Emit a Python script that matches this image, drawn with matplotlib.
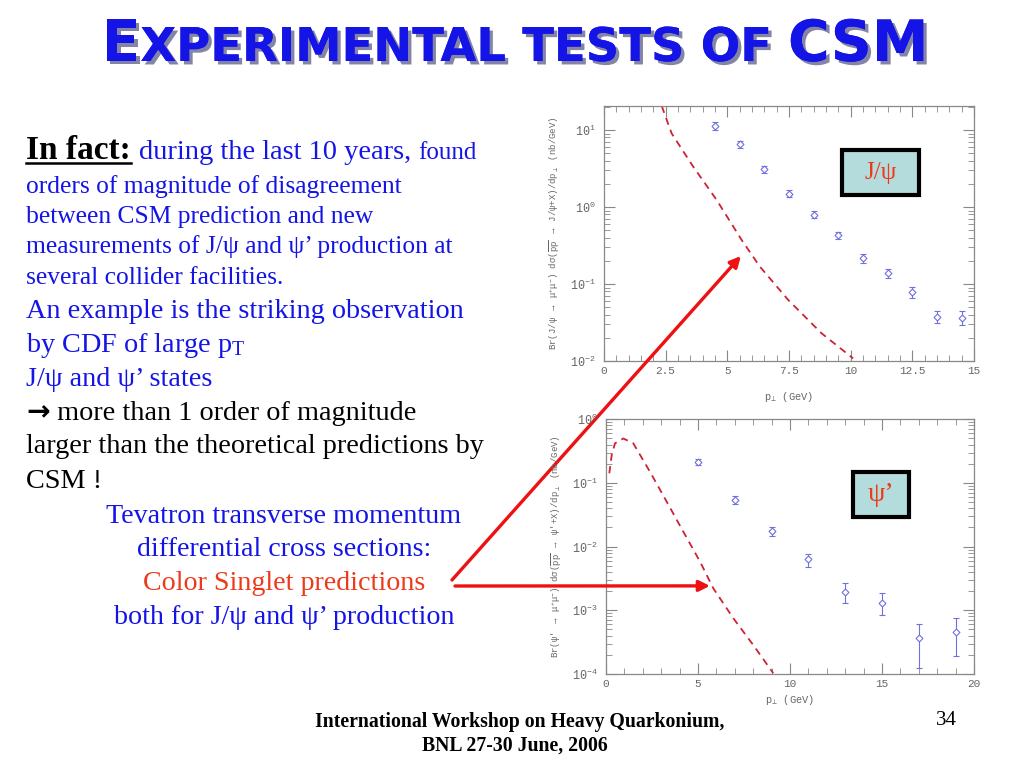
import matplotlib
matplotlib.use('Agg')
import matplotlib.pyplot as plt
import matplotlib.patheffects as pe
from matplotlib.patches import Rectangle
from matplotlib.lines import Line2D
from matplotlib.ticker import MultipleLocator, LogLocator, NullFormatter, FuncFormatter

W, H = 1024, 768

# CDF J/psi points: pT, value, lower and upper end of error bar (nb/GeV)
jpsi_pt = [4.5, 5.5, 6.5, 7.5, 8.5, 9.5, 10.5, 11.5, 12.5, 13.5, 14.5]
jpsi_val = [11.3, 6.5, 3.1, 1.49, 0.79, 0.43, 0.215, 0.137, 0.078, 0.037, 0.036]
jpsi_lo = [10.1, 5.9, 2.8, 1.35, 0.71, 0.385, 0.19, 0.12, 0.066, 0.031, 0.029]
jpsi_hi = [12.6, 7.2, 3.4, 1.65, 0.88, 0.48, 0.245, 0.156, 0.092, 0.044, 0.044]

# colour singlet prediction for J/psi (dashed)
jpsi_csm_pt = [2.34, 2.74, 3.62, 4.57, 5.58, 6.32, 7.47, 8.82, 10.1]
jpsi_csm_val = [20.5, 9.06, 3.33, 1.23, 0.373, 0.168, 0.062, 0.0229, 0.0108]

# CDF psi' points
psi2_pt = [5, 7, 9, 11, 13, 15, 17, 19]
psi2_val = [0.211, 0.054, 0.0178, 0.0063, 0.00196, 0.00132, 0.00037, 0.00046]
psi2_lo = [0.19, 0.047, 0.0149, 0.00486, 0.00132, 0.00083, 0.000126, 0.00019]
psi2_hi = [0.235, 0.0625, 0.0206, 0.0077, 0.00266, 0.00185, 0.00061, 0.00075]

# colour singlet prediction for psi'
psi2_csm_pt = [0.18, 0.31, 0.49, 0.94, 1.48, 2.39, 3.30, 4.20, 5.11, 5.83, 6.92, 8.0, 9.09]
psi2_csm_val = [0.142, 0.275, 0.42, 0.50, 0.42, 0.150, 0.0508, 0.0172, 0.00582,
                0.00222, 0.00075, 0.000286, 0.000103]

plt.rcParams['mathtext.default'] = 'regular'

BLUE = '#1414e6'
RED = '#ee3a1a'
AXC = '#666666'
MONO = ['Liberation Mono', 'DejaVu Sans Mono']
SERIF = ['Liberation Serif', 'DejaVu Serif']

fig = plt.figure(figsize=(W / 100, H / 100), dpi=100)
renderer = fig.canvas.get_renderer()


def fx(x):
    return x / W


def fy(y):
    return 1 - y / H


def style_axes(ax):
    for s in ax.spines.values():
        s.set_color('#888888')
        s.set_linewidth(0.9)
    ax.tick_params(which='both', direction='in', top=True, right=True,
                   colors='#888888', labelcolor=AXC, labelsize=8,
                   labelfontfamily='Liberation Mono')
    ax.tick_params(axis='y', labelsize=8.5, pad=6)
    ax.tick_params(which='major', length=8, width=0.8)
    ax.tick_params(which='minor', length=4, width=0.6)
    ax.yaxis.set_minor_locator(LogLocator(base=10, subs=range(2, 10)))
    ax.yaxis.set_minor_formatter(NullFormatter())


def draw_data(ax, pt, val, lo, hi):
    err = [[v - l for v, l in zip(val, lo)], [h - v for v, h in zip(val, hi)]]
    ax.errorbar(pt, val, yerr=err, fmt='D', ms=3.5, mfc='white', mec='#7070e2',
                mew=0.8, ecolor='#7070e2', elinewidth=0.8, capsize=2.5, capthick=0.8,
                zorder=3)


# ---- top panel: J/psi ----
ax1 = fig.add_axes([604 / W, 1 - 361 / H, 370 / W, 255 / H])
ax1.set_yscale('log')
ax1.plot(jpsi_csm_pt, jpsi_csm_val, color='#cc2233', lw=1.3, dashes=(4, 3))
draw_data(ax1, jpsi_pt, jpsi_val, jpsi_lo, jpsi_hi)
ax1.set_xlim(0, 15)
ax1.set_ylim(1e-2, 20.5)
ax1.xaxis.set_major_locator(MultipleLocator(2.5))
ax1.xaxis.set_minor_locator(MultipleLocator(0.5))
ax1.xaxis.set_major_formatter(FuncFormatter(lambda v, p: f'{v:g}'))
style_axes(ax1)
ax1.set_xlabel('p$_{\u22a5}$ (GeV)', color=AXC, fontsize=7.5, family=MONO, labelpad=10)
ax1.set_ylabel(r'Br(J/$\psi$ $\rightarrow$ $\mu^{+}\mu^{-}$) d$\sigma$($\overline{pp}$ $\rightarrow$ '
               r'J/$\psi$+X)/dp$_{\perp}$ (nb/GeV)', color=AXC, fontsize=6.5, family=MONO,
               labelpad=6)
ax1.add_patch(Rectangle((0.643, 0.651), 0.208, 0.176, transform=ax1.transAxes,
                        facecolor='#b4dcdc', edgecolor='black', lw=3, zorder=4))
ax1.text(0.747, 0.739, 'J/\u03c8', transform=ax1.transAxes, ha='center', va='center',
         color=RED, fontsize=18, family=SERIF, zorder=5)

# ---- bottom panel: psi' ----
ax2 = fig.add_axes([606 / W, 1 - 674 / H, 368 / W, 254.7 / H])
ax2.set_yscale('log')
ax2.plot(psi2_csm_pt, psi2_csm_val, color='#cc2233', lw=1.3, dashes=(4, 3))
draw_data(ax2, psi2_pt, psi2_val, psi2_lo, psi2_hi)
ax2.set_xlim(0, 20)
ax2.set_ylim(1e-4, 1)
ax2.xaxis.set_major_locator(MultipleLocator(5))
ax2.xaxis.set_minor_locator(MultipleLocator(1))
ax2.xaxis.set_major_formatter(FuncFormatter(lambda v, p: f'{v:g}'))
style_axes(ax2)
ax2.set_xlabel('p$_{\u22a5}$ (GeV)', color=AXC, fontsize=7.5, family=MONO, labelpad=3)
ax2.set_ylabel(r"Br($\psi$' $\rightarrow$ $\mu^{+}\mu^{-}$) d$\sigma$($\overline{pp}$ $\rightarrow$ "
               r"$\psi$'+X)/dp$_{\perp}$ (nb/GeV)", color=AXC, fontsize=6.5, family=MONO,
               labelpad=6)
ax2.add_patch(Rectangle((0.670, 0.616), 0.154, 0.1755, transform=ax2.transAxes,
                        facecolor='#b4dcdc', edgecolor='black', lw=3, zorder=4))
ax2.text(0.747, 0.703, '\u03c8\u2019', transform=ax2.transAxes, ha='center', va='center',
         color=RED, fontsize=20, family=SERIF, zorder=5)

# ---- arrows from "Color Singlet predictions" to the curves ----
arrow = dict(arrowstyle='-|>', color='#ee1111', lw=2.4, mutation_scale=16,
             shrinkA=0, shrinkB=0)
ax1.annotate('', xy=(5.55, 0.231), xycoords='data',
             xytext=(fx(452), fy(580)), textcoords='figure fraction',
             arrowprops=arrow, annotation_clip=False, zorder=10)
ax2.annotate('', xy=(5.65, 0.00242), xycoords='data',
             xytext=(fx(455), fy(586)), textcoords='figure fraction',
             arrowprops=arrow, annotation_clip=False, zorder=10)


# ---- slide text ----
def put_run(x, y, parts):
    for s, kw in parts:
        t = fig.text(fx(x), fy(y), s, ha='left', va='baseline', **kw)
        bb = t.get_window_extent(renderer)
        x = bb.x1
    return x


g1 = dict(color=BLUE, fontsize=18.4, family=SERIF)
g2 = dict(color=BLUE, fontsize=20.3, family=SERIF)
gk = dict(color='black', fontsize=20.3, family=SERIF)

t_in = fig.text(fx(26), fy(159), 'In fact:', ha='left', va='baseline', color='black',
                fontsize=24, fontweight='bold', family=SERIF)
bb = t_in.get_window_extent(renderer)
fig.add_artist(Line2D([bb.x0 / W, bb.x1 / W], [(H - 163) / H] * 2, color='black', lw=1.8))
put_run(bb.x1 + 8, 159, [('during the last 10 years, ', dict(g1, fontsize=20.5)),
                          ('found', dict(g1, fontsize=18))])

lines1 = ['orders of magnitude of disagreement',
          'between CSM prediction and new',
          'measurements of J/\u03c8 and \u03c8\u2019 production at',
          'several collider facilities.']
for s, yb in zip(lines1, [193, 223, 253, 284]):
    fig.text(fx(26), fy(yb), s, ha='left', va='baseline', **g1)

lines2 = ['An example is the striking observation',
          'by CDF of large p$_{T}$',
          'J/\u03c8 and \u03c8\u2019 states']
for s, yb in zip(lines2, [318, 352, 386]):
    fig.text(fx(26), fy(yb), s, ha='left', va='baseline', **g2)

put_run(26, 420, [('\u2192', dict(gk, fontweight='bold', family=['DejaVu Sans'])),
                  (' more than 1 order of magnitude', gk)])
fig.text(fx(26), fy(453), 'larger than the theoretical predictions by', ha='left',
         va='baseline', **gk)
fig.text(fx(26), fy(488), 'CSM !', ha='left', va='baseline', **gk)

center = [('Tevatron transverse momentum', BLUE, 523),
          ('differential cross sections:', BLUE, 556),
          ('Color Singlet predictions', RED, 590),
          ('both for J/\u03c8 and \u03c8\u2019 production', BLUE, 624)]
for s, c, yb in center:
    fig.text(fx(284), fy(yb), s, ha='center', va='baseline', color=c, fontsize=20.2,
             family=SERIF)

# ---- title in small caps ----
title_parts = [('E', 41), ('XPERIMENTAL TESTS OF ', 33.5), ('CSM', 41)]
shadow = [pe.withSimplePatchShadow(offset=(2.5, -2.5), shadow_rgbFace='#202060', alpha=0.55),
          pe.Normal()]
texts = []
for s, size in title_parts:
    t = fig.text(0, fy(61), s, ha='left', va='baseline', color=BLUE, fontsize=size,
                 fontweight='bold', family='DejaVu Sans', path_effects=shadow)
    texts.append(t)
widths = [t.get_window_extent(renderer).width for t in texts]
x = 515 - sum(widths) / 2
for t, w in zip(texts, widths):
    t.set_x(fx(x))
    x += w

# ---- footer ----
fig.text(fx(520), fy(727), 'International Workshop on Heavy Quarkonium,', ha='center',
         va='baseline', fontsize=14.2, fontweight='bold', family=SERIF)
fig.text(fx(515), fy(751), 'BNL 27-30 June, 2006', ha='center', va='baseline',
         fontsize=14.2, fontweight='bold', family=SERIF)
fig.text(fx(946), fy(725), '34', ha='center', va='baseline', fontsize=15, family=SERIF)

fig.savefig('out.png', dpi=100)
